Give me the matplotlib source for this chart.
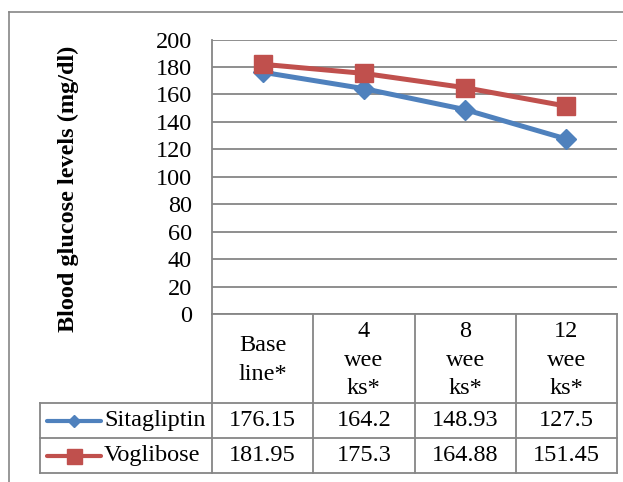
import matplotlib
matplotlib.use("Agg")
import matplotlib.pyplot as plt
import matplotlib.transforms as mtransforms
from matplotlib.lines import Line2D

plt.rcParams['font.family'] = ['Liberation Serif', 'DejaVu Serif']

categories = ["Base\nline*", "4\nwee\nks*", "8\nwee\nks*", "12\nwee\nks*"]
series_names = ["Sitagliptin", "Voglibose"]
sitagliptin = [176.15, 164.2, 148.93, 127.5]
voglibose = [181.95, 175.3, 164.88, 151.45]
yticks = [0, 20, 40, 60, 80, 100, 120, 140, 160, 180, 200]

blue = "#4F81BD"
red = "#C0504D"
grey = "#868686"
fs = 17.5

W, H = 623, 482
fig = plt.figure(figsize=(W / 100, H / 100), dpi=100)

# plot area in pixel terms
left, right, top, bottom = 212, 617, 39.5, 314
ax = fig.add_axes([left / W, 1 - bottom / H, (right - left) / W, (bottom - top) / H])

x = list(range(len(categories)))
ax.plot(x, sitagliptin, color=blue, lw=3.6, marker="D", ms=10, mec=blue, zorder=3, clip_on=False)
ax.plot(x, voglibose, color=red, lw=3.6, marker="s", ms=13, mec=red, zorder=4, clip_on=False)

ax.set_xlim(-0.5, len(categories) - 0.5)
ax.set_ylim(0, 200)
ax.set_yticks(yticks)
ax.set_yticklabels([str(t) for t in yticks], fontsize=fs)
ax.set_xticks([])
ax.tick_params(axis="y", length=0, pad=14.4)
ax.grid(axis="y", color=grey, lw=1.3)
ax.set_axisbelow(True)
for s in ["top", "right", "bottom"]:
    ax.spines[s].set_visible(False)
ax.spines["left"].set_color(grey)
ax.spines["left"].set_linewidth(1.3)

# data table below the plot
ph = bottom - top
def ay(py):
    return (bottom - py) / ph

def axx(px):
    return (px - left) / (right - left)

ax.text(axx(68), ay(189), "Blood glucose levels (mg/dl)", transform=ax.transAxes,
        rotation=90, ha="center", va="center", fontsize=fs, fontweight="bold")

blend = mtransforms.blended_transform_factory(ax.transData, ax.transAxes)
y_head, y_r1, y_r2 = ay(403), ay(438), ay(473)
x_leg = axx(40)
lk = dict(color=grey, lw=1.3, clip_on=False)

# horizontal lines
ax.plot([0, 1], [0, 0], transform=ax.transAxes, **lk)
for yy in [y_head, y_r1, y_r2]:
    ax.plot([x_leg, 1], [yy, yy], transform=ax.transAxes, **lk)
# vertical lines
for i in range(len(categories) + 1):
    ax.plot([i - 0.5, i - 0.5], [0, y_r2], transform=blend, **lk)
ax.plot([x_leg, x_leg], [y_head, y_r2], transform=ax.transAxes, **lk)

for i, c in enumerate(categories):
    ax.text(i, ay(360), c, transform=blend, ha="center", va="center",
            fontsize=fs, linespacing=1.45)

rows = [(series_names[0], sitagliptin, blue, "D", 6.6),
        (series_names[1], voglibose, red, "s", 10.8)]
bounds = [(y_head, y_r1), (y_r1, y_r2)]
for (name, vals, col, mk, ms), (y0, y1) in zip(rows, bounds):
    yc = (y0 + y1) / 2
    for i, v in enumerate(vals):
        ax.text(i, yc, str(v), transform=blend, ha="center", va="center", fontsize=fs)
    ax.add_line(Line2D([axx(47), axx(101)], [yc, yc], transform=ax.transAxes, color=col,
                       lw=3, solid_capstyle="round", clip_on=False))
    ax.add_line(Line2D([axx(74)], [yc], transform=ax.transAxes, color=col, marker=mk,
                       ms=ms, mec=col, lw=0, clip_on=False))
    ax.text(axx(104), yc, name, transform=ax.transAxes, ha="left", va="center", fontsize=fs)

# outer chart border (partially cropped)
fig.add_artist(Line2D([8.5 / W, 8.5 / W], [0, 1 - 11.5 / H], color=grey, lw=1.2))
fig.add_artist(Line2D([8.5 / W, 1], [1 - 11.5 / H, 1 - 11.5 / H], color=grey, lw=1.2))

fig.savefig("out.png", dpi=100)
